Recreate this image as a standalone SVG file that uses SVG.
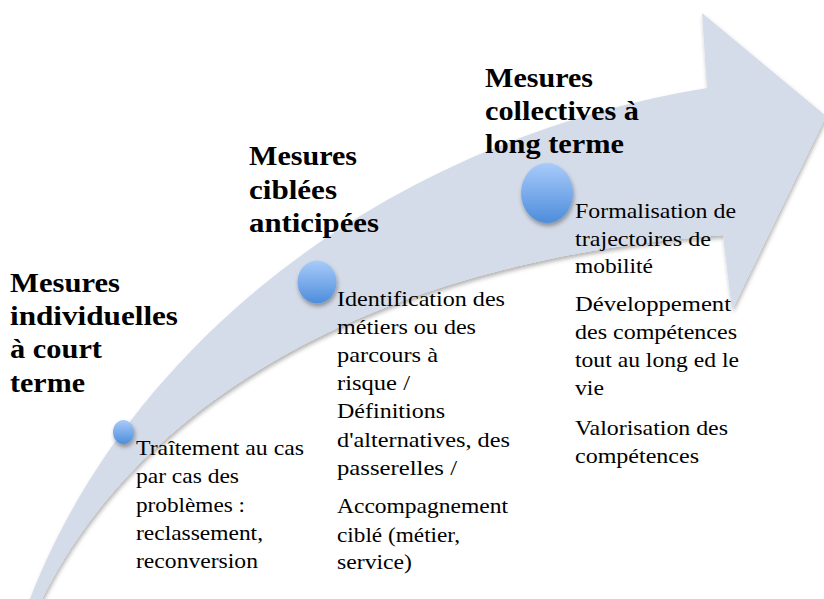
<svg xmlns="http://www.w3.org/2000/svg" width="824" height="599" viewBox="0 0 824 599">
<defs>
<style>
.h{font-family:"Liberation Serif","DejaVu Serif",serif;font-weight:bold;font-size:27px;fill:#000}
.b{font-family:"Liberation Serif","DejaVu Serif",serif;font-size:22px;fill:#000}
</style>
<linearGradient id="dot" x1="0" y1="0" x2="0" y2="1">
<stop offset="0" stop-color="#a9cbfa"/>
<stop offset="1" stop-color="#4d8ddb"/>
</linearGradient>
<filter id="sh" x="-20%" y="-20%" width="140%" height="150%">
<feDropShadow dx="1" dy="3" stdDeviation="2" flood-color="#000" flood-opacity="0.35"/>
</filter>
<filter id="ash" x="-10%" y="-10%" width="120%" height="120%">
<feDropShadow dx="1" dy="3" stdDeviation="2" flood-color="#000" flood-opacity="0.3"/>
</filter>
</defs>
<rect width="824" height="599" fill="#fff"/>
<g id="arrow">
<path d="M30,599 C130,340 390,140 707,88 L702,13 L826,116 L732,310 L723,235 C380,260 140,400 42,599 Z" fill="#d5dce9" filter="url(#ash)"/>
</g>
<g id="stage1">
<ellipse cx="123.5" cy="432" rx="10.5" ry="12" fill="url(#dot)" filter="url(#sh)"/>
<text class="h" x="10" y="292" textLength="110" lengthAdjust="spacingAndGlyphs">Mesures</text>
<text class="h" x="10" y="325" textLength="168" lengthAdjust="spacingAndGlyphs">individuelles</text>
<text class="h" x="10" y="358" textLength="92" lengthAdjust="spacingAndGlyphs">à court</text>
<text class="h" x="10" y="392" textLength="75" lengthAdjust="spacingAndGlyphs">terme</text>
<text class="b" x="136" y="455" textLength="168" lengthAdjust="spacingAndGlyphs">Traîtement au cas</text>
<text class="b" x="136" y="483" textLength="103" lengthAdjust="spacingAndGlyphs">par cas des</text>
<text class="b" x="136" y="512" textLength="109" lengthAdjust="spacingAndGlyphs">problèmes :</text>
<text class="b" x="136" y="540" textLength="127" lengthAdjust="spacingAndGlyphs">reclassement,</text>
<text class="b" x="136" y="568" textLength="122" lengthAdjust="spacingAndGlyphs">reconversion</text>
</g>
<g id="stage2">
<ellipse cx="317" cy="282" rx="19.5" ry="21.5" fill="url(#dot)" filter="url(#sh)"/>
<text class="h" x="249" y="165" textLength="108" lengthAdjust="spacingAndGlyphs">Mesures</text>
<text class="h" x="249" y="199" textLength="88" lengthAdjust="spacingAndGlyphs">ciblées</text>
<text class="h" x="249" y="232" textLength="130" lengthAdjust="spacingAndGlyphs">anticipées</text>
<text class="b" x="337" y="306" textLength="168" lengthAdjust="spacingAndGlyphs">Identification des</text>
<text class="b" x="337" y="334" textLength="139" lengthAdjust="spacingAndGlyphs">métiers ou des</text>
<text class="b" x="337" y="362" textLength="101" lengthAdjust="spacingAndGlyphs">parcours à</text>
<text class="b" x="337" y="390" textLength="73" lengthAdjust="spacingAndGlyphs">risque /</text>
<text class="b" x="337" y="418" textLength="108" lengthAdjust="spacingAndGlyphs">Définitions</text>
<text class="b" x="337" y="447" textLength="173" lengthAdjust="spacingAndGlyphs">d'alternatives, des</text>
<text class="b" x="337" y="475" textLength="120" lengthAdjust="spacingAndGlyphs">passerelles /</text>
<text class="b" x="337" y="513" textLength="171" lengthAdjust="spacingAndGlyphs">Accompagnement</text>
<text class="b" x="337" y="542" textLength="123" lengthAdjust="spacingAndGlyphs">ciblé (métier,</text>
<text class="b" x="337" y="569" textLength="75" lengthAdjust="spacingAndGlyphs">service)</text>
</g>
<g id="stage3">
<ellipse cx="547" cy="193" rx="26" ry="30" fill="url(#dot)" filter="url(#sh)"/>
<text class="h" x="485" y="87" textLength="108" lengthAdjust="spacingAndGlyphs">Mesures</text>
<text class="h" x="485" y="120" textLength="154" lengthAdjust="spacingAndGlyphs">collectives à</text>
<text class="h" x="485" y="153" textLength="139" lengthAdjust="spacingAndGlyphs">long terme</text>
<text class="b" x="575" y="218" textLength="161" lengthAdjust="spacingAndGlyphs">Formalisation de</text>
<text class="b" x="575" y="246" textLength="136" lengthAdjust="spacingAndGlyphs">trajectoires de</text>
<text class="b" x="575" y="273" textLength="78" lengthAdjust="spacingAndGlyphs">mobilité</text>
<text class="b" x="575" y="311" textLength="156" lengthAdjust="spacingAndGlyphs">Développement</text>
<text class="b" x="575" y="339" textLength="162" lengthAdjust="spacingAndGlyphs">des compétences</text>
<text class="b" x="575" y="367" textLength="164" lengthAdjust="spacingAndGlyphs">tout au long ed le</text>
<text class="b" x="575" y="395" textLength="29" lengthAdjust="spacingAndGlyphs">vie</text>
<text class="b" x="575" y="435" textLength="153" lengthAdjust="spacingAndGlyphs">Valorisation des</text>
<text class="b" x="575" y="463" textLength="124" lengthAdjust="spacingAndGlyphs">compétences</text>
</g>
<g id="connectors"/>
</svg>
